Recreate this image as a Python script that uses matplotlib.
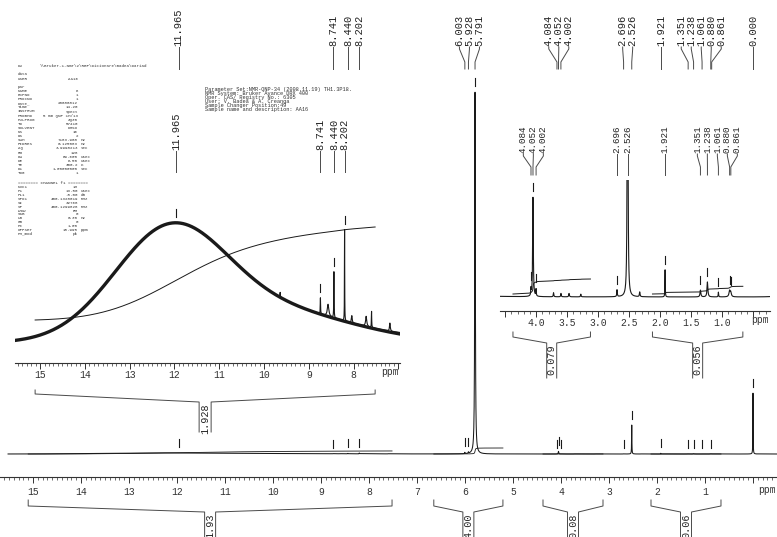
import numpy as np
import matplotlib
matplotlib.use("Agg")
import matplotlib.pyplot as plt
from matplotlib.ticker import FixedLocator, MultipleLocator, FuncFormatter

W, H, DPI = 777, 537, 100
MONO = "Liberation Mono"
INK = "#1a1a1a"
GREY = "#4a4a4a"
plt.rcParams["font.family"] = [MONO, "DejaVu Sans Mono"]

# ---------------------------------------------------------------- data
# sharp lines: position (ppm), relative height (5.791 line = 100), half width (ppm)
line_ppm = [5.791, 6.003, 5.928, 0.000, 2.526,
            4.084, 4.052, 4.002, 3.72, 3.60, 3.47, 3.28,
            2.696, 2.33, 1.921, 1.351, 1.238, 1.061, 0.880, 0.861,
            9.64, 8.741, 8.57, 8.440, 8.202, 8.04, 7.72, 7.60, 7.19]
line_height = [100.0, 0.35, 0.35, 16.8, 8.0,
               0.05, 0.73, 0.05, 0.03, 0.025, 0.025, 0.02,
               0.05, 0.035, 0.20, 0.05, 0.11, 0.035, 0.045, 0.03,
               0.012, 0.04, 0.03, 0.115, 0.228, 0.018, 0.025, 0.04, 0.02]
line_hwhm = [0.0072, 0.004, 0.004, 0.003, 0.0035,
             0.004, 0.006, 0.004, 0.005, 0.005, 0.006, 0.005,
             0.005, 0.006, 0.003, 0.008, 0.008, 0.004, 0.012, 0.010,
             0.005, 0.004, 0.020, 0.004, 0.003, 0.010, 0.015, 0.004, 0.010]

# broad exchangeable hump (gaussian components)
hump_center = [12.12, 9.8]
hump_height = [0.265, 0.0775]
hump_sigma = [1.25, 1.8]

# peak-picking labels
main_pick = ["11.965", "8.741", "8.440", "8.202", "6.003", "5.928", "5.791",
             "4.084", "4.052", "4.002", "2.696", "2.526", "1.921", "1.351",
             "1.238", "1.061", "0.880", "0.861", "0.000"]
left_pick = ["11.965", "8.741", "8.440", "8.202"]
right_pick = ["4.084", "4.052", "4.002", "2.696", "2.526", "1.921", "1.351",
              "1.238", "1.061", "0.880", "0.861"]
main_marks = ["11.965", "8.741", "8.440", "8.202", "6.003", "5.928", "5.791",
              "4.084", "4.052", "4.002", "2.696", "2.526", "1.921", "1.351",
              "1.238", "1.061", "0.880", "0.000"]

# integral regions (ppm) and values
main_int_from = [15.10, 6.65, 4.375, 2.125]
main_int_to = [7.52, 5.21, 3.125, 0.667]
main_int_label = ["1.93", "4.00", "0.08", "0.06"]
left_int_from = [15.11]
left_int_to = [7.52]
left_int_label = ["1.928"]
right_int_from = [4.375, 2.125]
right_int_to = [3.125, 0.667]
right_int_label = ["0.079", "0.056"]

# acquisition / processing parameters
user_name = "AA16"
data_path = r"\\Bruker-1-Nmr\2\RBF\Dicionare\Badea\Dariad"
acq_names = ["NAME", "EXPNO", "PROCNO", "Date_", "Time", "INSTRUM", "PROBHD",
             "PULPROG", "TD", "SOLVENT", "NS", "DS", "SWH", "FIDRES", "AQ",
             "RG", "DW", "DE", "TE", "D1", "TD0"]
acq_values = ["6", "1", "1", "20080812", "14.20", "spect", "5 mm QNP 1H/13",
              "zg30", "57410", "DMSO", "16", "2", "7183.908", "0.125083",
              "3.9998213", "128", "69.600", "6.50", "300.2", "1.00000000", "1"]
acq_units = ["", "", "", "", "", "", "", "", "", "", "", "", "Hz", "Hz", "sec",
             "", "usec", "usec", "K", "sec", ""]
ch_names = ["NUC1", "P1", "PL1", "SFO1", "SI", "SF", "WDW", "SSB", "LB", "GB",
            "PC", "OFFSET", "PH_mod"]
ch_values = ["1H", "13.50", "-5.00", "400.1328019", "32768", "400.1299828",
             "EM", "0", "0.30", "0", "1.00", "15.995", "pk"]
ch_units = ["", "usec", "dB", "MHz", "", "MHz", "", "", "Hz", "", "", "ppm", ""]
sample_info = ["Parameter Set:NMR-QNP-34 (2008.11.19) TH1.3P18.",
               "NMR System: Bruker Avance DRX 400",
               "Oper. CAS/ Registry No.: 6305",
               "User: V. Badea & A. Creanga",
               "Sample Changer Position:49",
               "Sample name and description: AA16"]

# ---------------------------------------------------------------- model
def hump_at(x):
    x = np.asarray(x, dtype=float)
    out = np.zeros_like(x)
    for c, h, s in zip(hump_center, hump_height, hump_sigma):
        out += h * np.exp(-(x - c) ** 2 / (2 * s * s))
    return out


def spec_at(x):
    x = np.asarray(x, dtype=float)
    out = hump_at(x)
    for p, h, w in zip(line_ppm, line_height, line_hwhm):
        out += h * w * w / ((x - p) ** 2 + w * w)
    return out


step = 0.0004
ppm = np.arange(-0.5, 15.7, step)
spec = spec_at(ppm)
hump = hump_at(ppm)


def integral_curve(lo, hi):
    m = (ppm >= lo) & (ppm <= hi)
    xs = ppm[m][::-1]
    cum = np.cumsum(spec[m][::-1]) * step
    return xs, cum


# ---------------------------------------------------------------- figure
fig = plt.figure(figsize=(W / DPI, H / DPI), dpi=DPI)


def make_axes(x0, x1, y_top, y_spine):
    return fig.add_axes([x0 / W, 1 - y_spine / H, (x1 - x0) / W, (y_spine - y_top) / H])


def style_axes(ax, majors, omit, fmt, minor, pad):
    ax.patch.set_visible(False)
    for s in ("left", "right", "top"):
        ax.spines[s].set_visible(False)
    ax.spines["bottom"].set_color("#333333")
    ax.spines["bottom"].set_linewidth(0.8)
    ax.yaxis.set_visible(False)
    ax.xaxis.set_major_locator(FixedLocator(majors))
    ax.xaxis.set_minor_locator(MultipleLocator(minor))
    ax.xaxis.set_major_formatter(FuncFormatter(
        lambda v, pos: "" if any(abs(v - o) < 1e-6 for o in omit) else fmt.format(v)))
    ax.tick_params(axis="x", which="major", direction="out", length=4.5, width=0.7,
                   pad=pad, labelsize=7, colors="#333333")
    ax.tick_params(axis="x", which="minor", direction="out", length=2.2, width=0.5,
                   colors="#333333")


# main spectrum
ax_m = make_axes(0, 777, 70, 477)
ax_m.set_xlim(15.6875, -0.5)
ax_m.set_ylim(-(477 - 454) / 3.62, (454 - 70) / 3.62)
style_axes(ax_m, list(range(0, 16)), [0], "{:g}", 0.1, 2.5)
mm = ppm <= 15.52
ax_m.plot(ppm[mm], spec[mm], color=INK, lw=0.75)
k_main = (6 / 3.62) / integral_curve(main_int_to[1], main_int_from[1])[1][-1]
for lo, hi in zip(main_int_to, main_int_from):
    xs, cum = integral_curve(lo, hi)
    ax_m.plot(xs, k_main * cum, color=INK, lw=0.6)

# left inset: broad hump region
ax_l = make_axes(15, 400, 200, 363)
ax_l.set_xlim(15.559, 6.965)
ax_l.set_ylim(-(363 - 343) / 400, (343 - 200) / 400)
style_axes(ax_l, list(range(7, 16)), [7], "{:g}", 0.1, 0.5)
ax_l.plot(ppm, hump, color=INK, lw=2.4)
ax_l.plot(ppm, spec, color=INK, lw=0.8)
for lo, hi in zip(left_int_to, left_int_from):
    xs, cum = integral_curve(lo, hi)
    ax_l.plot(xs, 0.0575 + (0.29 - 0.0575) * cum / cum[-1], color=INK, lw=0.7)

# right inset: aliphatic region
ax_r = make_axes(500, 770, 180, 311)
ax_r.set_xlim(4.584, 0.229)
ax_r.set_ylim(-(311 - 297) / 136, (297 - 180) / 136)
style_axes(ax_r, [0.5, 1.0, 1.5, 2.0, 2.5, 3.0, 3.5, 4.0, 4.5], [0.5, 4.5],
           "{:.1f}", 0.1, 0.5)
ax_r.plot(ppm, spec, color=INK, lw=0.8)
k_r = (15 / 136) / integral_curve(right_int_to[0], right_int_from[0])[1][-1]
for lo, hi in zip(right_int_to, right_int_from):
    xs, cum = integral_curve(lo, hi)
    ax_r.plot(xs, 0.022 + k_r * cum, color=INK, lw=0.7)

# overlay in pixel coordinates (y downwards) for annotations
ov = fig.add_axes([0, 0, 1, 1], zorder=5)
ov.set_xlim(0, W)
ov.set_ylim(H, 0)
ov.axis("off")


def to_pix(ax, x, y):
    dx, dy = ax.transData.transform((x, y))
    return dx, H - dy


def spread(xs, gap):
    clusters = [[x] for x in xs]
    merged = True
    while merged:
        merged = False
        out = []
        for c in clusters:
            if out:
                prev = out[-1]
                pr = np.mean(prev) + (len(prev) - 1) * gap / 2
                cl = np.mean(c) - (len(c) - 1) * gap / 2
                if cl - pr < gap:
                    out[-1] = prev + c
                    merged = True
                    continue
            out.append(c)
        clusters = out
    pos = []
    for c in clusters:
        m, n = np.mean(c), len(c)
        pos += [m + (i - (n - 1) / 2) * gap for i in range(n)]
    return pos


def peak_labels(ax, labels, y_text, y_bend1, y_bend2, y_end, gap, fs):
    pairs = sorted((to_pix(ax, float(t), 0)[0], t) for t in labels)
    px = [p for p, _ in pairs]
    lx = spread(px, gap)
    for (p, t), l in zip(pairs, lx):
        ov.text(l, y_text, t, rotation=90, ha="center", va="bottom",
                fontsize=fs, color="#222222")
        ov.plot([l, l, p, p], [y_text + 1, y_bend1, y_bend2, y_end],
                color=GREY, lw=0.7)


def peak_marks(ax, labels):
    top = H - ax.get_position().y1 * H
    for t in labels:
        p = float(t)
        x, y = to_pix(ax, p, float(spec_at(p)))
        if y - 14 < top:
            continue
        ov.plot([x, x], [y - 14, y - 6], color=INK, lw=0.8)


def brackets(ax, his, los, labels, y0, y1, y_apex, y_bot, bw, fs):
    for hi, lo, t in zip(his, los, labels):
        x0 = to_pix(ax, hi, 0)[0]
        x1 = to_pix(ax, lo, 0)[0]
        cx = (x0 + x1) / 2
        ov.plot([x0, x0, cx - bw / 2, cx - bw / 2], [y0, y1, y_apex, y_bot],
                color=GREY, lw=0.7, clip_on=False)
        ov.plot([x1, x1, cx + bw / 2, cx + bw / 2], [y0, y1, y_apex, y_bot],
                color=GREY, lw=0.7, clip_on=False)
        ov.text(cx, y_apex + 1.5, t, rotation=90, ha="center", va="top",
                fontsize=fs, color="#222222")


peak_labels(ax_m, main_pick, 46, 49, 62, 69, 10, 7.5)
peak_labels(ax_l, left_pick, 150, 153, 164, 172, 10, 7.5)
peak_labels(ax_r, right_pick, 153, 156, 167, 175, 10, 6.7)

peak_marks(ax_m, main_marks)
peak_marks(ax_l, left_pick)
peak_marks(ax_r, right_pick)

brackets(ax_m, main_int_from, main_int_to, main_int_label, 500, 506, 512, 545, 11, 7.3)
brackets(ax_l, left_int_from, left_int_to, left_int_label, 390, 394, 402, 432, 12, 7.3)
brackets(ax_r, right_int_from, right_int_to, right_int_label, 332, 337, 343, 378, 10, 7.3)

ov.text(767, 490, "ppm", ha="center", va="center", fontsize=7, color="#333333")
ov.text(390, 372, "ppm", ha="center", va="center", fontsize=7, color="#333333")
ov.text(760, 320, "ppm", ha="center", va="center", fontsize=7, color="#333333")

# parameter listing
pfs = 3.0
pcol = "#333333"
ov.text(18, 66, "DU", fontsize=pfs, va="center", color=pcol)
ov.text(40, 66, data_path, fontsize=pfs, va="center", color=pcol)
ov.text(18, 74, "data", fontsize=pfs, va="center", color=pcol)
ov.text(18, 79, "USER", fontsize=pfs, va="center", color=pcol)
ov.text(78, 79, user_name, fontsize=pfs, va="center", ha="right", color=pcol)
ov.text(18, 87, "par", fontsize=pfs, va="center", color=pcol)
for i, (n, v, u) in enumerate(zip(acq_names, acq_values, acq_units)):
    y = 91 + i * 4.1
    ov.text(18, y, n, fontsize=pfs, va="center", color=pcol)
    ov.text(78, y, v, fontsize=pfs, va="center", ha="right", color=pcol)
    if u:
        ov.text(81, y, u, fontsize=pfs, va="center", color=pcol)
ov.text(18, 183, "======== CHANNEL f1 ========", fontsize=pfs, va="center", color=pcol)
for i, (n, v, u) in enumerate(zip(ch_names, ch_values, ch_units)):
    y = 187.5 + i * 3.85
    ov.text(18, y, n, fontsize=pfs, va="center", color=pcol)
    ov.text(78, y, v, fontsize=pfs, va="center", ha="right", color=pcol)
    if u:
        ov.text(81, y, u, fontsize=pfs, va="center", color=pcol)

for i, line in enumerate(sample_info):
    ov.text(205, 89 + i * 4.2, line, fontsize=3.8, va="center", color=pcol)

fig.savefig("out.png", dpi=DPI)
